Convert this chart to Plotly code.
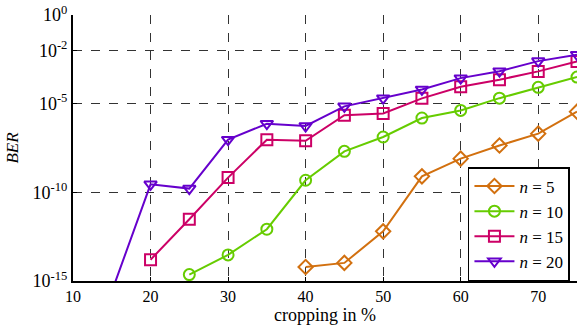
import plotly.graph_objects as go

x_n5 = [40, 45, 50, 55, 60, 65, 70, 75]
ber_n5 = [10**-14.21, 10**-13.98, 10**-12.2, 10**-9.1, 10**-8.1, 10**-7.36, 10**-6.69, 10**-5.45]

x_n10 = [25, 30, 35, 40, 45, 50, 55, 60, 65, 70, 75]
ber_n10 = [10**-14.64, 10**-13.53, 10**-12.08, 10**-9.32, 10**-7.69, 10**-6.88, 10**-5.81, 10**-5.38, 10**-4.69, 10**-4.08, 10**-3.5]

x_n15 = [20, 25, 30, 35, 40, 45, 50, 55, 60, 65, 70, 75]
ber_n15 = [10**-13.8, 10**-11.52, 10**-9.17, 10**-7.03, 10**-7.09, 10**-5.65, 10**-5.55, 10**-4.7, 10**-4.05, 10**-3.65, 10**-3.18, 10**-2.62]

x_n20 = [15, 20, 25, 30, 35, 40, 45, 50, 55, 60, 65, 70, 75]
ber_n20 = [10**-15.6, 10**-9.55, 10**-9.79, 10**-7.03, 10**-6.13, 10**-6.26, 10**-5.15, 10**-4.69, 10**-4.2, 10**-3.56, 10**-3.17, 10**-2.6, 10**-2.24]

series_names = ["<i>n</i> = 5", "<i>n</i> = 10", "<i>n</i> = 15", "<i>n</i> = 20"]
colors = ["#D2700F", "#66CC00", "#CC0066", "#6600CC"]
symbols = ["diamond-open", "circle-open", "square-open", "triangle-down-open"]

y_tickvals = [1, 1e-2, 1e-5, 1e-10, 1e-15]
y_ticktext = ["10<sup>0</sup>", "10<sup>-2</sup>", "10<sup>-5</sup>", "10<sup>-10</sup>", "10<sup>-15</sup>"]
x_tickvals = [10, 20, 30, 40, 50, 60, 70]

font_family = "Liberation Serif"

fig = go.Figure()
for xs, ys, name, c, s in zip([x_n5, x_n10, x_n15, x_n20], [ber_n5, ber_n10, ber_n15, ber_n20],
                              series_names, colors, symbols):
    fig.add_trace(go.Scatter(
        x=xs, y=ys, name=name, mode="lines+markers",
        line=dict(color=c, width=2),
        marker=dict(symbol=s, size=11, color=c, line=dict(color=c, width=2)),
    ))

fig.update_layout(
    width=577, height=328,
    margin=dict(l=73, r=0, t=15, b=47),
    paper_bgcolor="white", plot_bgcolor="white",
    font=dict(family=font_family, color="black", size=17),
    showlegend=True,
    legend=dict(
        x=0.986, y=0.0, xanchor="right", yanchor="bottom",
        bgcolor="white", bordercolor="black", borderwidth=1.5,
        font=dict(family=font_family, size=17, color="black"),
        itemwidth=40, tracegroupgap=0,
    ),
)
fig.update_xaxes(
    range=[10, 75], tickvals=x_tickvals,
    showline=True, linecolor="black", linewidth=2,
    ticks="inside", ticklen=4, tickcolor="black",
    showgrid=True, gridcolor="#333333", griddash="dash", gridwidth=1,
    zeroline=False,
    title=dict(text="cropping in %", font=dict(family=font_family, size=18), standoff=3),
    tickfont=dict(family=font_family, size=16),
)
fig.update_yaxes(
    type="log", range=[-15, 0], tickvals=y_tickvals, ticktext=y_ticktext,
    showline=True, linecolor="black", linewidth=2,
    ticks="inside", ticklen=4, tickcolor="black",
    showgrid=True, gridcolor="#333333", griddash="dash", gridwidth=1,
    zeroline=False,
    title=dict(text="<i>BER</i>", font=dict(family=font_family, size=17), standoff=10),
    tickfont=dict(family=font_family, size=18),
)

fig.write_html("out.html", config={"displayModeBar": False},
               post_script="document.body.style.margin='0';document.body.style.overflow='hidden';")
